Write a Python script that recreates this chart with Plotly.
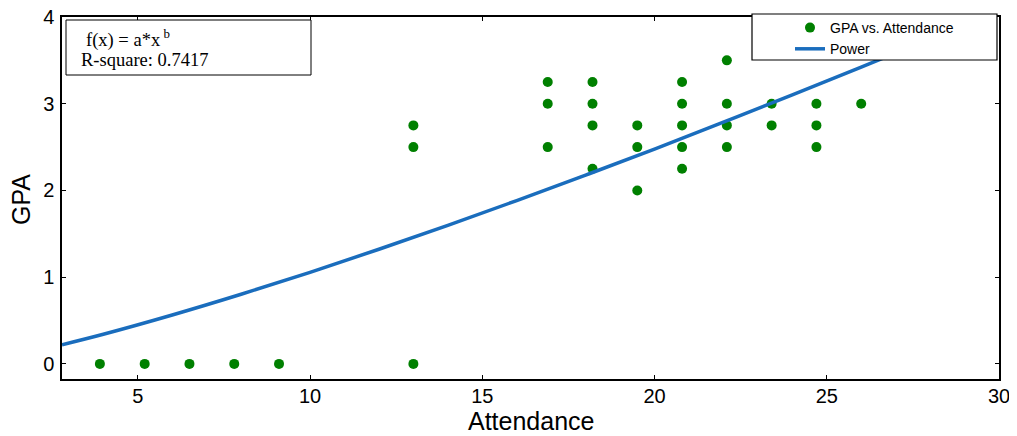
import plotly.graph_objects as go

# Scatter data: attendance vs GPA
attendance = [3.9, 5.2, 6.5, 7.8, 9.1,
              13.0, 13.0, 13.0,
              16.9, 16.9, 16.9,
              18.2, 18.2, 18.2, 18.2,
              19.5, 19.5, 19.5,
              20.8, 20.8, 20.8, 20.8, 20.8,
              22.1, 22.1, 22.1, 22.1,
              23.4, 23.4,
              24.7, 24.7, 24.7,
              26.0]
gpa = [0, 0, 0, 0, 0,
       0, 2.5, 2.75,
       2.5, 3.0, 3.25,
       2.25, 2.75, 3.0, 3.25,
       2.0, 2.5, 2.75,
       2.25, 2.5, 2.75, 3.0, 3.25,
       2.5, 2.75, 3.0, 3.5,
       2.75, 3.0,
       2.5, 2.75, 3.0,
       3.0]

# Power fit curve
fit_x = [2.8, 4, 6, 8, 10, 12, 14, 16, 18, 20, 22, 24, 26, 28, 30]
fit_y = [0.221, 0.342, 0.564, 0.803, 1.056, 1.322, 1.598, 1.883, 2.177,
         2.477, 2.787, 3.101, 3.423, 3.749, 4.080]

x_ticks = [5, 10, 15, 20, 25, 30]
y_ticks = [0, 1, 2, 3, 4]

# page-pixel helpers (page body has an 8px margin; plot area spans 62..999 x 17..379)
FW, FH = 1009, 428
PL, PR, PT, PB = 62, 999, 17, 379
def px(x):
    return (x - PL) / (PR - PL)
def py(y):
    return (PB - y) / (PB - PT)

fig = go.Figure()
fig.add_trace(go.Scatter(
    x=attendance, y=gpa, mode="markers", name="GPA vs. Attendance",
    marker=dict(color="#008000", size=10, line=dict(width=0)),
))
fig.add_trace(go.Scatter(
    x=fit_x, y=fit_y, mode="lines", name="Power",
    line=dict(color="#1a6dbd", width=3.5, shape="spline"),
))

axis_common = dict(
    showgrid=False, zeroline=False, showline=True, linecolor="black",
    linewidth=1.5, mirror="ticks", ticks="inside", ticklen=4,
    tickcolor="black", automargin=False, ticklabeloverflow="allow",
    tickfont=dict(family="Liberation Sans, Arial", size=20, color="black"),
)

serif = "Liberation Serif, Times New Roman"
fig.update_layout(
    width=FW, height=FH,
    margin=dict(l=PL - 8, r=1017 - PR, t=PT - 8, b=436 - PB, autoexpand=False),
    paper_bgcolor="white", plot_bgcolor="white",
    font=dict(family="Liberation Sans, Arial", color="black"),
    xaxis=dict(range=[2.8, 30], tickvals=x_ticks, ticklabelstandoff=-2,
               **axis_common),
    yaxis=dict(range=[-0.174, 4], tickvals=y_ticks, ticklabelstandoff=2,
               **axis_common),
    showlegend=True,
    legend=dict(x=px(790), y=py(12), xanchor="left", yanchor="top",
                bgcolor="rgba(0,0,0,0)", borderwidth=0,
                font=dict(family="Liberation Sans, Arial", size=14, color="black"),
                tracegroupgap=0, itemwidth=30),
    shapes=[
        # legend box
        dict(type="rect", xref="paper", yref="paper",
             x0=px(752), x1=px(997), y0=py(60), y1=py(14),
             fillcolor="white", line=dict(color="black", width=1.2), layer="above"),
        # fit info box
        dict(type="rect", xref="paper", yref="paper",
             x0=px(66), x1=px(311), y0=py(75), y1=py(20),
             fillcolor="white", line=dict(color="black", width=1), layer="above"),
    ],
    annotations=[
        dict(text="f(x) = a*x<sup> b</sup>", xref="paper", yref="paper",
             x=px(84), y=py(38), xanchor="left", yanchor="middle",
             showarrow=False, font=dict(family=serif, size=18.5, color="black")),
        dict(text="R-square: 0.7417", xref="paper", yref="paper",
             x=px(79), y=py(60), xanchor="left", yanchor="middle",
             showarrow=False, font=dict(family=serif, size=18.5, color="black")),
        dict(text="Attendance", xref="paper", yref="paper",
             x=px(531), y=py(421), xanchor="center", yanchor="middle",
             showarrow=False, font=dict(size=25, color="black")),
        dict(text="GPA", xref="paper", yref="paper", textangle=-90,
             x=px(21), y=py(200), xanchor="center", yanchor="middle",
             showarrow=False, font=dict(size=25, color="black")),
    ],
)

fig.write_html("out.html")
